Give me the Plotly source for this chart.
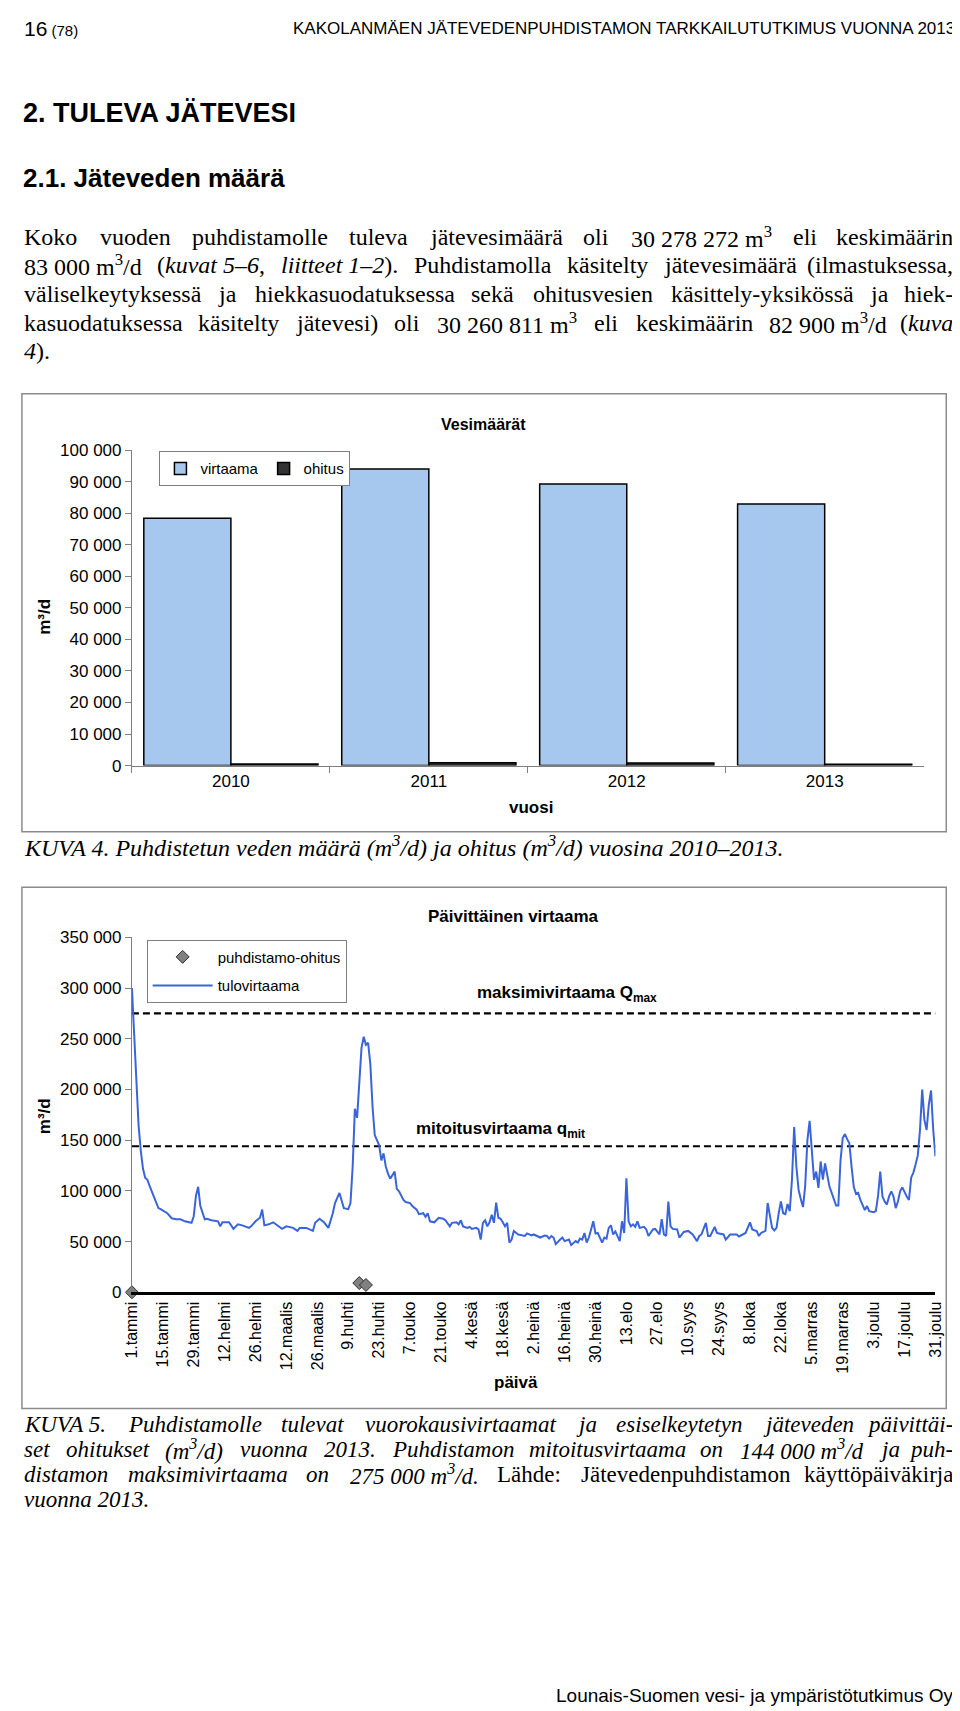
import re
import plotly.graph_objects as go

W, H = 960, 1711

# ---------------- data: chart 1 (KUVA 4) ----------------
years = ["2010", "2011", "2012", "2013"]
virtaama = [78400, 94000, 89300, 82900]
ohitus = [500, 900, 800, 400]

# ---------------- data: chart 2 (KUVA 5) ----------------
tick_days = [1, 15, 29, 43, 57, 71, 85, 99, 113, 127, 141, 155, 169, 183,
             197, 211, 225, 239, 253, 267, 281, 295, 309, 323, 337, 351, 365]
tick_labels = ["1.tammi", "15.tammi", "29.tammi", "12.helmi", "26.helmi",
               "12.maalis", "26.maalis", "9.huhti", "23.huhti", "7.touko",
               "21.touko", "4.kesä", "18.kesä", "2.heinä", "16.heinä",
               "30.heinä", "13.elo", "27.elo", "10.syys", "24.syys", "8.loka",
               "22.loka", "5.marras", "19.marras", "3.joulu", "17.joulu",
               "31.joulu"]

flow_days = [1, 2, 3, 4, 5, 6, 7, 8, 9, 11, 13, 14, 17, 19, 21, 23, 25, 28, 29,
             30, 31, 32, 34, 35, 37, 40, 41, 42, 45, 47, 49, 51, 54, 55, 57,
             59, 60, 61, 63, 65, 67, 69, 71, 74, 76, 77, 80, 83, 84, 86, 88,
             90, 92, 93, 95, 96, 97, 99, 100, 101, 102, 103, 104, 105, 106,
             107, 108, 109, 110, 111, 113, 114, 115, 116, 117, 118, 120, 121,
             122, 124, 125, 127, 128, 130, 131, 133, 134, 135, 136, 138, 140,
             142, 143, 145, 146, 148, 149, 150, 151, 153, 154, 155, 157, 158,
             159, 160, 161, 162, 163, 164, 165, 166, 167, 168, 169, 170, 171,
             172, 173, 174, 176, 178, 179, 180, 182, 183, 185, 186, 188, 189,
             190, 191, 192, 193, 195, 196, 197, 199, 200, 202, 203, 204, 205,
             206, 207, 208, 209, 210, 211, 212, 214, 215, 216, 217, 218, 219,
             220, 222, 223, 224, 225, 226, 227, 228, 229, 230, 231, 233, 234,
             235, 237, 238, 240, 241, 242, 243, 244, 245, 246, 248, 249, 251,
             253, 255, 257, 258, 259, 261, 262, 263, 265, 266, 267, 269, 270,
             272, 273, 275, 276, 278, 279, 281, 282, 284, 285, 286, 288, 289,
             291, 292, 293, 294, 295, 296, 297, 298, 299, 300, 301, 302, 303,
             304, 305, 306, 307, 308, 309, 310, 311, 312, 313, 314, 315, 316,
             317, 318, 319, 320, 321, 322, 323, 324, 325, 326, 327, 328, 329,
             330, 331, 332, 333, 334, 335, 337, 338, 339, 340, 341, 342, 343,
             344, 345, 346, 347, 348, 349, 350, 352, 353, 354, 355, 356, 357,
             358, 359, 360, 361, 362, 363, 364, 365]
flow_vals = [300000, 250000, 200000, 165000, 140000, 122000, 113000, 111000,
             105000, 94000, 83000, 82000, 78000, 73000, 72000, 72000, 70000,
             68500, 75000, 95000, 104000, 85000, 72000, 72500, 71000, 70000,
             65000, 69000, 69000, 62500, 67000, 66000, 63500, 65000, 70000,
             73500, 81500, 66000, 67000, 69000, 66000, 62500, 65000, 63500,
             60500, 63500, 63500, 60500, 68500, 72500, 69000, 63500, 78000,
             88000, 98000, 90000, 83000, 82000, 88000, 124000, 181000, 172000,
             209000, 241000, 252000, 244000, 246000, 225000, 183000, 155000,
             145000, 130000, 137000, 124000, 117000, 112000, 119000, 102000,
             99500, 91000, 89000, 88000, 85000, 81500, 77000, 78000, 74500,
             78000, 70000, 69000, 73500, 72500, 71000, 65000, 68500, 69000,
             67000, 71000, 65000, 63500, 64500, 62500, 63500, 62000, 52000,
             68500, 71000, 65000, 69000, 76500, 68500, 88500, 73500, 72500,
             69000, 65000, 68500, 49000, 52000, 60500, 57000, 56000, 55500,
             58000, 56000, 57000, 55500, 54000, 56000, 55500, 53000, 55500,
             54000, 47500, 52000, 54000, 50500, 52000, 46500, 50500, 49000,
             53000, 52000, 58500, 49000, 54000, 62000, 70000, 58000, 58500,
             49000, 54000, 53000, 63500, 66000, 57000, 60000, 50500, 70000,
             58500, 112500, 70000, 65000, 67000, 64500, 70000, 63500, 64500,
             62000, 55500, 62000, 62500, 57000, 72000, 57000, 55500, 89500,
             65000, 62500, 62000, 54000, 59500, 60500, 57000, 50500, 55500,
             57000, 68500, 55500, 55500, 64500, 58500, 58000, 57000, 52000,
             57000, 57000, 57000, 55000, 57000, 58500, 69000, 62000, 60500,
             55500, 58500, 60500, 88000, 63500, 61000, 63500, 78000, 89500,
             78000, 77000, 87000, 80000, 111000, 163000, 124000, 101000,
             92000, 84000, 105000, 150000, 169000, 137000, 111000, 119000,
             103000, 129000, 111000, 127000, 117000, 104000, 98000, 91000,
             85500, 85500, 130000, 152000, 156000, 151000, 147000, 124000,
             104000, 97000, 98000, 91000, 86500, 81000, 85000, 80000, 79000,
             80000, 95000, 119000, 94500, 89500, 86500, 94500, 99500, 94500,
             83000, 89500, 99500, 103500, 94500, 91000, 113000, 118000,
             126000, 135000, 160000, 200000, 170000, 160000, 185000, 199000,
             160000, 134000]

bypass_days = [1, 104, 107]
bypass_vals = [0, 9100, 7200]

Q_MAX = 275000
Q_MIT = 144000

# ---------------- helpers ----------------
SANS = "Liberation Sans, Arial, sans-serif"
SERIF = "Liberation Serif, Times New Roman, serif"


def px(x):
    return x / W


def py(y):
    return 1 - y / H


annotations = []


def text(x, y, s, size, family=SANS, xanchor="left", angle=0, color="black"):
    annotations.append(dict(x=px(x), y=py(y), xref="paper", yref="paper",
                            text=s, showarrow=False, xanchor=xanchor,
                            yanchor="middle", textangle=angle, borderpad=0,
                            font=dict(size=size, family=family, color=color)))


TR = {' ': 250, '(': 333, ')': 333, ',': 250, '-': 333, '.': 250, '/': 278,
      ':': 278, '–': 500, 'A': 722, 'B': 667, 'C': 667, 'D': 722, 'E': 611,
      'F': 556, 'G': 722, 'H': 722, 'I': 333, 'J': 389, 'K': 722, 'L': 611,
      'M': 889, 'N': 722, 'O': 722, 'P': 556, 'Q': 722, 'R': 667, 'S': 556,
      'T': 611, 'U': 722, 'V': 722, 'W': 944, 'X': 722, 'Y': 722, 'Z': 611,
      'a': 444, 'b': 500, 'c': 444, 'd': 500, 'e': 444, 'f': 333, 'g': 500,
      'h': 500, 'i': 278, 'j': 278, 'k': 500, 'l': 278, 'm': 778, 'n': 500,
      'o': 500, 'p': 500, 'q': 500, 'r': 333, 's': 389, 't': 278, 'u': 500,
      'v': 500, 'w': 722, 'x': 500, 'y': 500, 'z': 444, 'ä': 444, 'ö': 500,
      'Ä': 722, 'Ö': 722}
TI = {' ': 250, '(': 333, ')': 333, ',': 250, '-': 333, '.': 250, '/': 278,
      ':': 333, '–': 500, 'A': 611, 'B': 611, 'C': 667, 'D': 722, 'E': 611,
      'F': 611, 'G': 722, 'H': 722, 'I': 333, 'J': 444, 'K': 667, 'L': 556,
      'M': 833, 'N': 667, 'O': 722, 'P': 611, 'Q': 722, 'R': 611, 'S': 500,
      'T': 556, 'U': 722, 'V': 611, 'W': 833, 'X': 611, 'Y': 556, 'Z': 556,
      'a': 500, 'b': 500, 'c': 444, 'd': 500, 'e': 444, 'f': 278, 'g': 500,
      'h': 500, 'i': 278, 'j': 278, 'k': 444, 'l': 278, 'm': 722, 'n': 500,
      'o': 500, 'p': 500, 'q': 500, 'r': 389, 's': 389, 't': 278, 'u': 500,
      'v': 444, 'w': 667, 'x': 444, 'y': 444, 'z': 389, 'ä': 500, 'ö': 500,
      'Ä': 611, 'Ö': 722}


def tok_width(tok, size):
    w = 0.0
    ital = False
    sup = False
    for part in re.split(r'(<[^>]+>)', tok):
        if part.startswith('<'):
            t = part.lower()
            if t == '<i>':
                ital = True
            elif t == '</i>':
                ital = False
            elif t == '<sup>':
                sup = True
            elif t == '</sup>':
                sup = False
            continue
        tbl = TI if ital else TR
        for ch in part:
            w += tbl.get(ch, 500) * (0.7 if sup else 1.0)
    return w / 1000.0 * size


def justify(tokens, y, size, x0=6, x1=954):
    ws = [tok_width(t, size) for t in tokens]
    gap = (x1 - x0 - sum(ws)) / (len(tokens) - 1)
    gap = max(gap, 0.22 * size)
    x = x0
    n = len(tokens)
    for k, (t, w) in enumerate(zip(tokens, ws)):
        if k == n - 1:
            text(x1, y, t, size, SERIF, xanchor="right")
        else:
            text(x, y, t, size, SERIF)
        x += w + gap


def it(tokens):
    return ["<i>" + t + "</i>" for t in tokens]


# ---------------- page text ----------------
text(6, 12, "<span style='font-size:21px'>16</span> (78)", 15)
text(956, 12, "KAKOLANMÄEN JÄTEVEDENPUHDISTAMON TARKKAILUTUTKIMUS VUONNA 2013",
     17, xanchor="right")
text(5, 97, "<b>2. TULEVA JÄTEVESI</b>", 27)
text(5, 163, "<b>2.1. Jäteveden määrä</b>", 26)

PS = 24
justify(["Koko", "vuoden", "puhdistamolle", "tuleva", "jätevesimäärä", "oli",
         "30 278 272 m<sup>3</sup>", "eli", "keskimäärin"], 222, PS)
justify(["83 000 m<sup>3</sup>/d", "(<i>kuvat 5–6</i>,", "<i>liitteet 1–2</i>).",
         "Puhdistamolla", "käsitelty", "jätevesimäärä", "(ilmastuksessa,"],
        251, PS)
justify(["väliselkeytyksessä", "ja", "hiekkasuodatuksessa", "sekä",
         "ohitusvesien", "käsittely-yksikössä", "ja", "hiek-"], 280, PS)
justify(["kasuodatuksessa", "käsitelty", "jätevesi)", "oli",
         "30 260 811 m<sup>3</sup>", "eli", "keskimäärin",
         "82 900 m<sup>3</sup>/d", "(<i>kuva</i>"], 309, PS)
text(6, 338, "<i>4</i>).", PS, SERIF)

CS = 23
text(6, 838, "<i>KUVA 4. Puhdistetun veden määrä (m<sup>3</sup>/d) ja ohitus "
     "(m<sup>3</sup>/d) vuosina 2010–2013.</i>", 24, SERIF)
justify(it(["KUVA 5.", "Puhdistamolle", "tulevat", "vuorokausivirtaamat", "ja",
            "esiselkeytetyn", "jäteveden", "päivittäi-"]), 1423, CS)
justify(it(["set", "ohitukset", "(m<sup>3</sup>/d)", "vuonna", "2013.",
            "Puhdistamon", "mitoitusvirtaama", "on", "144 000 m<sup>3</sup>/d",
            "ja", "puh-"]), 1449, CS)
justify(it(["distamon", "maksimivirtaama", "on", "275 000 m<sup>3</sup>/d."])
        + ["Lähde:", "Jätevedenpuhdistamon", "käyttöpäiväkirja"], 1474, CS)
text(6, 1499, "<i>vuonna 2013.</i>", CS, SERIF)

text(955, 1697, "Lounais-Suomen vesi- ja ympäristötutkimus Oy", 19,
     xanchor="right")

# ---------------- chart texts ----------------
text(475, 412, "<b>Vesimäärät</b>", 16, xanchor="center")
text(28, 607, "<b>m³/d</b>", 17, xanchor="center", angle=-90)
text(523, 799, "<b>vuosi</b>", 17, xanchor="center")

text(505, 910, "<b>Päivittäinen virtaama</b>", 17, xanchor="center")
text(28, 1112, "<b>m³/d</b>", 17, xanchor="center", angle=-90)
text(508, 1381, "<b>päivä</b>", 17, xanchor="center")
text(560, 988, "<b>maksimivirtaama Q<sub>max</sub></b>", 17, xanchor="center")
text(492, 1126, "<b>mitoitusvirtaama q<sub>mit</sub></b>", 17, xanchor="center")

# ---------------- figure ----------------
fig = go.Figure()

fig.add_trace(go.Bar(x=years, y=virtaama, name="virtaama",
                     marker=dict(color="#A7C8EE", line=dict(color="black", width=1.5)),
                     xaxis="x", yaxis="y", legend="legend"))
fig.add_trace(go.Bar(x=years, y=ohitus, name="ohitus",
                     marker=dict(color="#333333", line=dict(color="black", width=1.5)),
                     xaxis="x", yaxis="y", legend="legend"))

fig.add_trace(go.Scatter(x=[1, 365], y=[Q_MAX, Q_MAX], mode="lines",
                         line=dict(color="black", width=2.2, dash="7px,4px"),
                         showlegend=False, xaxis="x2", yaxis="y2", hoverinfo="skip"))
fig.add_trace(go.Scatter(x=[1, 365], y=[Q_MIT, Q_MIT], mode="lines",
                         line=dict(color="black", width=2.2, dash="7px,4px"),
                         showlegend=False, xaxis="x2", yaxis="y2", hoverinfo="skip"))
fig.add_trace(go.Scatter(x=bypass_days, y=bypass_vals, mode="markers",
                         name="puhdistamo-ohitus", legendgroup="g1",
                         marker=dict(symbol="diamond", size=10, color="#808080",
                                     line=dict(color="#303030", width=1)),
                         cliponaxis=False, xaxis="x2", yaxis="y2",
                         legend="legend2"))
fig.add_trace(go.Scatter(x=flow_days, y=flow_vals, mode="lines",
                         name="tulovirtaama", legendgroup="g2",
                         line=dict(color="#3A64DA", width=2),
                         xaxis="x2", yaxis="y2", legend="legend2"))

axis_font = dict(family=SANS, size=17, color="black")

fig.update_layout(
    width=W, height=H,
    margin=dict(l=0, r=0, t=0, b=0),
    paper_bgcolor="white", plot_bgcolor="rgba(0,0,0,0)",
    separators=", ",
    barmode="group", bargap=0.12, bargroupgap=0,
    font=dict(family=SANS, color="black"),
    xaxis=dict(domain=[px(117), px(923)], anchor="y", type="category",
               range=[-0.5, 3.5], showline=True, linecolor="#7f7f7f",
               linewidth=1, ticks="outside", tickson="boundaries", ticklen=6,
               tickcolor="#7f7f7f", tickfont=axis_font, showgrid=False,
               zeroline=False),
    yaxis=dict(domain=[py(757), py(438)], anchor="x", range=[0, 100000],
               tickvals=list(range(0, 100001, 10000)), tickformat=",d",
               showline=True, linecolor="#7f7f7f", linewidth=1,
               ticks="outside", ticklen=6, tickcolor="#7f7f7f",
               tickfont=axis_font, showgrid=False, zeroline=False),
    xaxis2=dict(domain=[px(117), px(935)], anchor="y2", range=[1, 365],
                tickvals=tick_days, ticktext=tick_labels, tickangle=-90,
                ticks="", showline=True, linecolor="black", linewidth=3,
                tickfont=dict(family=SANS, size=16, color="black"),
                showgrid=False, zeroline=False),
    yaxis2=dict(domain=[py(1289.6), py(930.7)], anchor="x2",
                range=[0, 350000], tickvals=list(range(0, 350001, 50000)),
                tickformat=",d", showline=True, linecolor="#7f7f7f",
                linewidth=1, ticks="outside", ticklen=6, tickcolor="#7f7f7f",
                tickfont=axis_font, showgrid=False, zeroline=False),
    legend=dict(x=px(145), y=py(439), xanchor="left", yanchor="top",
                orientation="h", bgcolor="white", bordercolor="#7f7f7f",
                borderwidth=1, itemwidth=30,
                font=dict(family=SANS, size=15, color="black")),
    legend2=dict(x=px(132), y=py(933), xanchor="left", yanchor="top",
                 orientation="v", bgcolor="white", bordercolor="#7f7f7f",
                 borderwidth=1, itemwidth=60, tracegroupgap=6,
                 font=dict(family=SANS, size=15, color="black")),
    annotations=annotations,
    shapes=[
        dict(type="rect", xref="paper", yref="paper", x0=px(5), x1=px(946),
             y0=py(824), y1=py(381), line=dict(color="#8c8c8c", width=1.5),
             layer="below"),
        dict(type="rect", xref="paper", yref="paper", x0=px(5), x1=px(946),
             y0=py(1407), y1=py(880), line=dict(color="#8c8c8c", width=1.5),
             layer="below"),
    ],
)

fig.write_html("out.html")
